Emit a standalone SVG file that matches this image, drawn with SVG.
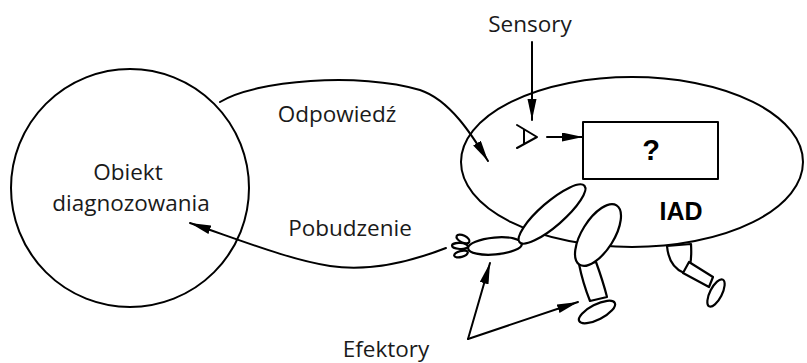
<svg xmlns="http://www.w3.org/2000/svg" width="807" height="363" viewBox="0 0 807 363">
  <style>
    .line { fill: none; stroke: #000; stroke-width: 2; stroke-linecap: round; stroke-linejoin: round; }
    .limb { fill: #fff; stroke: #000; stroke-width: 2.2; stroke-linejoin: round; }
    .label { font-family: "Open Sans", "Liberation Sans", sans-serif; font-size: 22.5px; fill: #1a1a1a; text-anchor: middle; }
    .bold { font-family: "Liberation Sans", Arial, sans-serif; font-weight: bold; fill: #000; text-anchor: middle; }
  </style>
  <defs>
    <marker id="arrow" markerUnits="userSpaceOnUse" markerWidth="22" markerHeight="10" refX="21" refY="4.5" orient="auto">
      <path d="M0,0 L21,4.5 L0,9 Z" fill="#000"/>
    </marker>
  </defs>
  <rect width="807" height="363" fill="#fff"/>

  <!-- object under diagnosis -->
  <g id="obiekt">
    <circle cx="130" cy="188" r="119" class="line"/>
    <text class="label" x="128" y="180">Obiekt</text>
    <text class="label" x="131" y="211">diagnozowania</text>
  </g>

  <!-- agent body; rear leg sits behind the body outline -->
  <g id="iad">
    <path class="limb" d="M667,246 C668,258 672,268 684,273 C690,270 692,262 691,244 Z"/>
    <path class="limb" d="M689,262 L713,277 L709,287 L683,273 Z"/>
    <ellipse class="limb" cx="716" cy="293" rx="15" ry="6" transform="rotate(-63 716 293)"/>
    <ellipse cx="632" cy="162" rx="171" ry="85" class="line"/>
    <text class="bold" x="681" y="220" font-size="25">IAD</text>
  </g>

  <!-- reasoning unit -->
  <g id="procesor">
    <rect x="583" y="122" width="135" height="57" class="line"/>
    <text class="bold" x="651" y="160" font-size="29">?</text>
  </g>

  <!-- sensor -->
  <g id="sensor">
    <path class="line" d="M517,125 L537,137 L517,148 M524,130 L524,144"/>
  </g>

  <!-- effectors: arm with hand, front leg -->
  <g id="efektory-ramie">
    <ellipse class="limb" cx="463" cy="239" rx="7" ry="3.5" transform="rotate(25 463 239)"/>
    <ellipse class="limb" cx="460" cy="246" rx="8" ry="3" transform="rotate(3 460 246)"/>
    <ellipse class="limb" cx="461" cy="254" rx="7" ry="3" transform="rotate(-15 461 254)"/>
    <ellipse class="limb" cx="495" cy="246" rx="27" ry="8.5" transform="rotate(-5 495 246)"/>
    <ellipse class="limb" cx="552" cy="214" rx="43" ry="12" transform="rotate(-41 552 214)"/>
  </g>
  <g id="efektory-noga">
    <path class="limb" d="M579,264 C582,279 586,291 590,301 L607,297 C604,285 600,273 596,262 Z"/>
    <ellipse class="limb" cx="597" cy="312" rx="20" ry="7.5" transform="rotate(-27 597 312)"/>
    <ellipse class="limb" cx="598" cy="235" rx="35" ry="16" transform="rotate(-58 598 235)"/>
  </g>

  <!-- connectors -->
  <g id="connectors">
    <path class="line" d="M220,102 C255,80 360,72 420,90 C450,100 472,135 488,161" marker-end="url(#arrow)"/>
    <path class="line" d="M446,248 C410,262 370,272 330,266 C290,260 240,240 190,223" marker-end="url(#arrow)"/>
    <path class="line" d="M532,42 L532,120" marker-end="url(#arrow)"/>
    <path class="line" d="M547,137 L583,137" marker-end="url(#arrow)"/>
    <path class="line" d="M468,339 L490,263" marker-end="url(#arrow)"/>
    <path class="line" d="M468,339 L578,302" marker-end="url(#arrow)"/>
  </g>

  <!-- labels -->
  <g id="labels">
    <text class="label" x="337" y="122">Odpowiedź</text>
    <text class="label" x="350" y="236">Pobudzenie</text>
    <text class="label" x="530" y="32">Sensory</text>
    <text class="label" x="386" y="357">Efektory</text>
  </g>
</svg>
